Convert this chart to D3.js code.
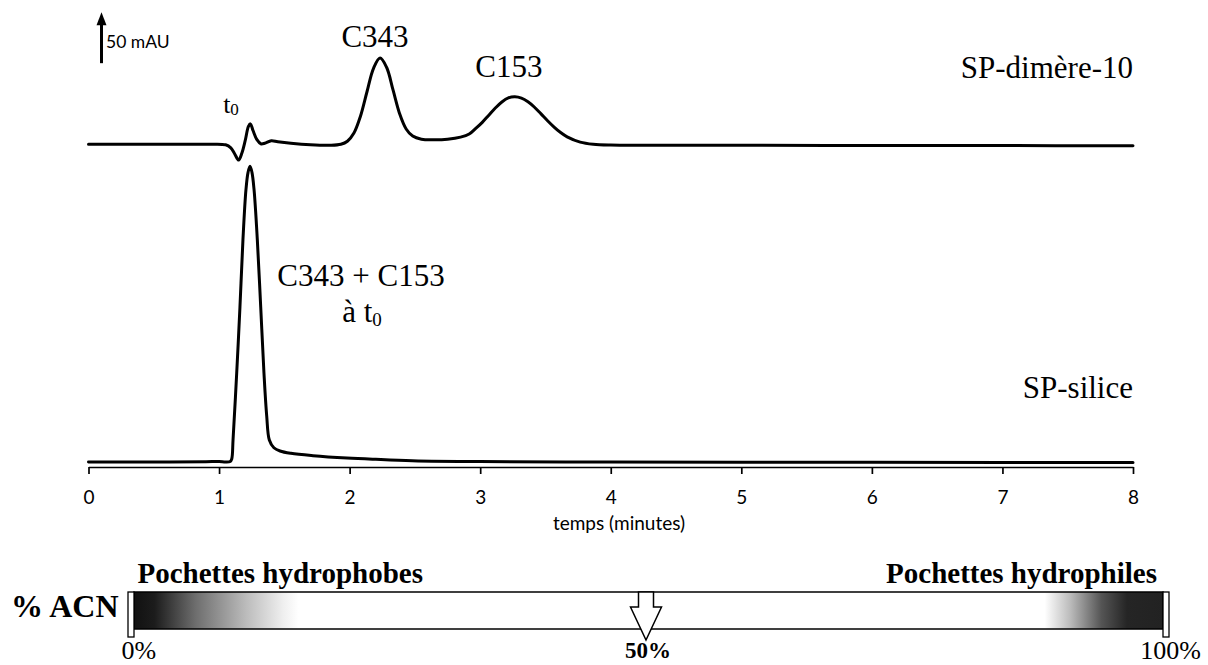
<!DOCTYPE html>
<html>
<head>
<meta charset="utf-8">
<script src="https://cdn.jsdelivr.net/npm/d3@7"></script>
<style>
  html, body { margin: 0; padding: 0; background: #fff; }
  svg { display: block; }
</style>
</head>
<body>
<svg id="chart" width="1208" height="665"></svg>
<script>
// ---------- DATA ----------
// x tick values (minutes)
const xTicks = [0, 1, 2, 3, 4, 5, 6, 7, 8];
const xLabel = "temps (minutes)";

// SP-dimère-10 trace : [time (min), signal (mAU, relative to its baseline)]
const dimereTime = [0, 0.5, 0.9, 1.05, 1.09, 1.12, 1.15, 1.175, 1.2, 1.225, 1.24, 1.26, 1.29, 1.32, 1.35, 1.4, 1.45, 1.55, 1.7, 1.85, 1.933, 1.983, 2.033, 2.083, 2.133, 2.183, 2.233, 2.283, 2.333, 2.383, 2.433, 2.483, 2.55, 2.65, 2.75, 2.85, 2.916, 2.966, 3.016, 3.066, 3.116, 3.166, 3.216, 3.266, 3.316, 3.366, 3.416, 3.466, 3.516, 3.566, 3.616, 3.666, 3.766, 3.866, 4.0, 4.5, 5, 6, 7, 8];
const dimereSignal = [0.5, 0.5, 0.5, 0, -3, -9, -15, -8, 4, 18, 20.5, 14, 5, 1, 1.5, 4, 3, 1.5, 0, -0.5, 0.5, 3.5, 11.5, 28, 52, 75, 85, 76, 53.5, 30.5, 15.5, 8.5, 5.5, 5, 5.5, 7.5, 10.5, 16, 22, 29, 36, 42, 46, 47, 45.7, 42.1, 36.8, 30.3, 23.6, 17.4, 12, 7.8, 2.6, 0.5, -0.3, -0.5, -0.5, -0.7, -0.8, -1];

// SP-silice trace : [time (min), signal (mAU)]
const siliceTime = [0, 0.5, 0.9, 1.0, 1.05, 1.085, 1.097, 1.107, 1.135, 1.16, 1.183, 1.206, 1.222, 1.237, 1.252, 1.268, 1.293, 1.319, 1.344, 1.365, 1.385, 1.42, 1.467, 1.55, 1.72, 1.98, 2.2, 2.48, 3.0, 4, 5, 6, 7, 8];
const siliceSignal = [0, 0, 0.3, 0.5, 0, 0.5, 3, 21.6, 87, 152, 218, 267, 284, 290, 284, 267, 218, 152, 87, 45, 21.6, 14, 10.8, 8.5, 6.2, 3.9, 2.6, 1.3, 0.4, 0, -0.2, -0.3, -0.4, -0.5];

const traceNames = ["SP-dimère-10", "SP-silice"];
const peakLabels = ["C343", "C153"];
const coElutionLabel = ["C343 + C153", "à t"];
const scaleBarValue = 50; // mAU
const scaleBarUnit = "mAU";

// % ACN gradient bar
const acnTicks = [0, 50, 100];
const acnTickLabels = ["0%", "50%", "100%"];
const acnTitle = "% ACN";
const pocketLabels = ["Pochettes hydrophobes", "Pochettes hydrophiles"];
const gradientPct = [0, 2, 6, 11, 14.5, 16, 88.5, 91, 94, 96.5, 100];
const gradientGrey = ["#111111", "#1c1c1c", "#6e6e6e", "#bdbdbd", "#efefef", "#ffffff", "#ffffff", "#bbbbbb", "#555555", "#252525", "#222222"];

// ---------- DRAWING ----------
const SERIF = "'Liberation Serif', 'Times New Roman', Tinos, 'DejaVu Serif', serif";
const SANS = "Lato, 'Open Sans', 'Liberation Sans', sans-serif";

const svg = d3.select("#chart");

const x = d3.scaleLinear().domain([0, 8]).range([88.5, 1133]);
const y = d3.scaleLinear().domain([0, 100]).range([462, 360]); // 1.02 px per mAU
const topOffset = 311; // vertical stacking offset of the upper trace (mAU)

const line = d3.line()
  .x(d => x(d[0]))
  .y(d => y(d[1]))
  .curve(d3.curveCatmullRom.alpha(0.5));

const dimere = dimereTime.map((t, i) => [t, dimereSignal[i] + topOffset]);
const silice = siliceTime.map((t, i) => [t, siliceSignal[i]]);

[dimere, silice].forEach(series => {
  svg.append("path")
    .datum(series)
    .attr("d", line)
    .attr("fill", "none")
    .attr("stroke", "#000")
    .attr("stroke-width", 3)
    .attr("stroke-linejoin", "round")
    .attr("stroke-linecap", "round");
});

// x axis
const axis = svg.append("g")
  .attr("transform", "translate(0,467)")
  .call(d3.axisBottom(x).tickValues(xTicks).tickFormat(d3.format("d")).tickSize(7).tickSizeOuter(0).tickPadding(17));
axis.select(".domain").attr("stroke", "#000").attr("stroke-width", 1.7);
axis.selectAll(".tick line").attr("stroke", "#000").attr("stroke-width", 1.7);
axis.selectAll(".tick text")
  .style("font-family", SANS)
  .style("font-size", "19px")
  .attr("fill", "#000");

svg.append("text")
  .style("font-family", SANS)
  .attr("x", 619).attr("y", 530)
  .attr("text-anchor", "middle")
  .style("font-size", "19px")
  .text(xLabel);

// scale bar (50 mAU)
const sbBase = 391;
const sbX = 101.5;
svg.append("line")
  .attr("x1", sbX).attr("x2", sbX)
  .attr("y1", y(sbBase)).attr("y2", y(sbBase + scaleBarValue) + 10)
  .attr("stroke", "#000").attr("stroke-width", 3);
svg.append("path")
  .attr("d", `M${sbX - 5},${y(sbBase + scaleBarValue) + 13} L${sbX},${y(sbBase + scaleBarValue)} L${sbX + 5},${y(sbBase + scaleBarValue) + 13} Z`)
  .attr("fill", "#000");
svg.append("text")
  .style("font-family", SANS)
  .attr("x", 106).attr("y", 48)
  .style("font-size", "17.5px")
  .text(`${scaleBarValue} ${scaleBarUnit}`);

// annotations
function serifText(txt, xx, yy, size, anchor, weight) {
  return svg.append("text")
    .attr("x", xx).attr("y", yy)
    .attr("fill", "#000")
    .attr("text-anchor", anchor || "start")
    .style("font-family", SERIF)
    .style("font-size", size + "px")
    .style("font-weight", weight || "normal")
    .text(txt);
}

// t0 on upper trace
const t0 = serifText("t", 231, 113, 26, "middle");
t0.append("tspan").attr("dy", 2).style("font-size", "17px").text("0");

serifText(peakLabels[0], x(2.233) - 5, 47, 31, "middle");
serifText(peakLabels[1], x(3.266) - 6, 77, 31, "middle");
serifText(traceNames[0], x(8), 78, 31, "end");
serifText(coElutionLabel[0], 361, 286, 31, "middle");
const at0 = serifText(coElutionLabel[1], 362, 322, 31, "middle");
at0.append("tspan").attr("dy", 4).style("font-size", "19px").text("0");
serifText(traceNames[1], x(8), 398, 31, "end");

// ---------- % ACN bar ----------
const acn = d3.scaleLinear().domain([0, 100]).range([134, 1163]);
const barTop = 592, barBottom = 629;

const defs = svg.append("defs");
const grad = defs.append("linearGradient").attr("id", "acnGrad")
  .attr("x1", "0%").attr("x2", "100%").attr("y1", "0%").attr("y2", "0%");
gradientPct.forEach((p, i) => {
  grad.append("stop").attr("offset", p + "%").attr("stop-color", gradientGrey[i]);
});

svg.append("rect")
  .attr("x", acn(0)).attr("y", barTop)
  .attr("width", acn(100) - acn(0)).attr("height", barBottom - barTop)
  .attr("fill", "url(#acnGrad)")
  .attr("stroke", "#000").attr("stroke-width", 1.5);

// end boxes
svg.append("rect").attr("x", acn(0) - 6).attr("y", barTop).attr("width", 6).attr("height", 45)
  .attr("fill", "#fff").attr("stroke", "#000").attr("stroke-width", 1.3);
svg.append("rect").attr("x", acn(100)).attr("y", barTop).attr("width", 6).attr("height", 45)
  .attr("fill", "#fff").attr("stroke", "#000").attr("stroke-width", 1.3);

// 50% hollow arrow
const ax = acn(acnTicks[1]) - 2.5;
svg.append("path")
  .attr("d", `M${ax - 7.5},${barTop} L${ax + 7.5},${barTop} L${ax + 7.5},${barTop + 15} L${ax + 15.5},${barTop + 15} L${ax},${barTop + 48} L${ax - 15.5},${barTop + 15} L${ax - 7.5},${barTop + 15} Z`)
  .attr("fill", "#fff").attr("stroke", "#000").attr("stroke-width", 1.5).attr("stroke-linejoin", "miter");

serifText(acnTitle, 118.5, 617, 32, "end", "bold");
serifText(pocketLabels[0], 137.5, 583, 29, "start", "bold");
serifText(pocketLabels[1], 1157, 583, 29, "end", "bold");
serifText(acnTickLabels[0], acn(0) - 12.5, 659, 26, "start");
serifText(acnTickLabels[2], 1201, 659, 26, "end");
serifText(acnTickLabels[1], ax + 2, 658, 23, "middle", "bold");
</script>
</body>
</html>
